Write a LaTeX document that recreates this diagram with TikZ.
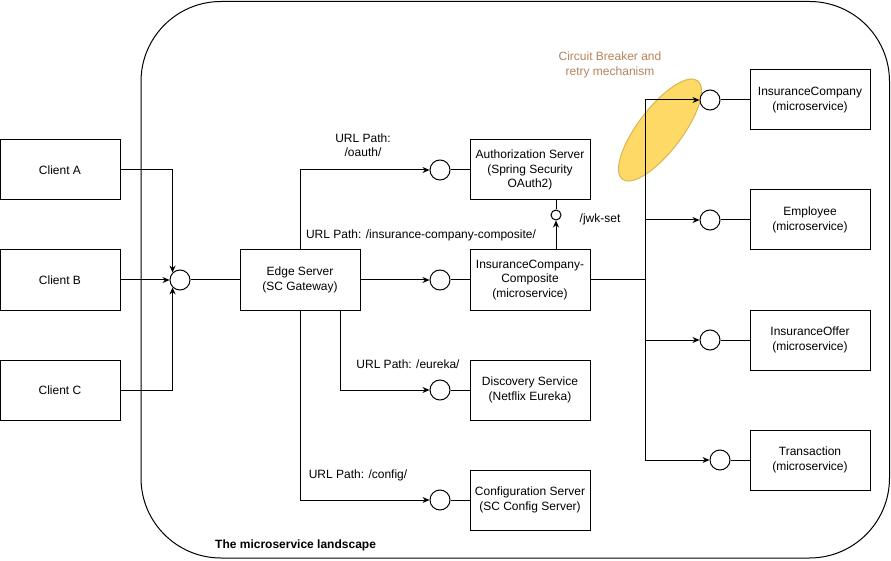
\documentclass[tikz,border=0pt]{standalone}
\usepackage{fontspec}
\setmainfont{Liberation Sans}
\usetikzlibrary{arrows.meta,shapes.geometric}
\definecolor{cbfill}{HTML}{FFD966}
\definecolor{cbdraw}{HTML}{D6B656}
\definecolor{cbtext}{HTML}{B5835A}
\begin{document}
\begin{tikzpicture}[x=1pt,y=-1pt,
  txt/.style={font=\fontsize{12}{14.5}\selectfont},
  box/.style={txt, draw, line width=1pt, minimum width=120pt, minimum height=60pt,
    align=center, inner sep=0pt, fill=white},
  port/.style={draw, circle, line width=1pt, minimum size=20pt, inner sep=0pt, fill=white},
  smallport/.style={draw, circle, line width=1pt, minimum size=10pt, inner sep=0pt, fill=white},
  link/.style={line width=1pt},
  flow/.style={link, -{Stealth[length=7pt,width=6pt]}},
  lbl/.style={txt, align=center, inner sep=0pt}
]
\useasboundingbox (0,0) rectangle (891,561);

% landscape boundary
\draw[line width=1pt, rounded corners=80pt] (141,1.5) rectangle (889.5,558);
\node[lbl, anchor=west, font=\fontsize{12}{14.5}\selectfont\bfseries] (lland) at (215,545) {The microservice landscape};

% circuit breaker highlight
\node[draw=cbdraw, fill=cbfill, ellipse, line width=1pt, minimum width=124pt, minimum height=44pt,
  rotate=52.6, inner sep=0pt] (cb) at (660,130) {};
\node[lbl, text=cbtext] (lcb) at (610,65) {Circuit Breaker and\\retry mechanism};

% clients
\node[box] (ca) at (60,170) {Client A};
\node[box] (cb) at (60,280) {Client B};
\node[box] (cc) at (60,390) {Client C};
\node[port] (jc) at (180,280) {};

% edge and infrastructure services
\node[box] (edge) at (300,280) {Edge Server\\(SC Gateway)};
\node[port] (pauth) at (440,170) {};
\node[box] (auth) at (530,170) {Authorization Server\\(Spring Security\\OAuth2)};
\node[port] (pcomp) at (440,280) {};
\node[box] (comp) at (530,280) {InsuranceCompany-\\Composite\\(microservice)};
\node[smallport] (pjwk) at (556,215) {};
\node[port] (pdisc) at (440,390) {};
\node[box] (disc) at (530,390) {Discovery Service\\(Netflix Eureka)};
\node[port] (pconf) at (440,500) {};
\node[box] (conf) at (530,500) {Configuration Server\\(SC Config Server)};

% core microservices
\node[port] (pic) at (710,100) {};
\node[box] (ic) at (810,100) {InsuranceCompany\\(microservice)};
\node[port] (pemp) at (710,220) {};
\node[box] (emp) at (810,220) {Employee\\(microservice)};
\node[port] (poff) at (710,340) {};
\node[box] (off) at (810,340) {InsuranceOffer\\(microservice)};
\node[port] (ptx) at (720,460) {};
\node[box] (tx) at (810,460) {Transaction\\(microservice)};

% path labels
\node[lbl] (loauth) at (363,145) {URL Path:\\/oauth/};
\node[lbl] (lcomp) at (421,235) {URL Path: /insurance-company-composite/};
\node[lbl] (ljwk) at (600,219) {/jwk-set};
\node[lbl] (leur) at (408,364) {URL Path: /eureka/};
\node[lbl] (lconf) at (358,475) {URL Path: /config/};

% clients to edge server
\draw[flow] (ca.east) -| (jc.north west);
\draw[flow] (cb.east) -- (jc.west);
\draw[flow] (cc.east) -| (jc.south west);
\draw[link] (jc.east) -- (edge.west);

% edge server routes
\draw[flow] (edge.north) |- (pauth.west);
\draw[link] (pauth.east) -- (auth.west);
\draw[flow] (edge.east) -- (pcomp.west);
\draw[link] (pcomp.east) -- (comp.west);
\draw[flow] ([xshift=40pt]edge.south) |- (pdisc.west);
\draw[link] (pdisc.east) -- (disc.west);
\draw[flow] (edge.south) |- (pconf.west);
\draw[link] (pconf.east) -- (conf.west);

% token key set
\draw[flow] (pjwk |- comp.north) -- (pjwk.south);
\draw[link] (pjwk.north) -- (pjwk |- auth.south);

% composite to core services
\coordinate (bus) at (645,280);
\draw[link] (comp.east) -- (bus);
\draw[flow] (bus) |- (pic.west);
\draw[flow] (bus) |- (pemp.west);
\draw[flow] (bus) |- (poff.west);
\draw[flow] (bus) |- (ptx.west);
\draw[link] (pic.east) -- (ic.west);
\draw[link] (pemp.east) -- (emp.west);
\draw[link] (poff.east) -- (off.west);
\draw[link] (ptx.east) -- (tx.west);
\end{tikzpicture}
\end{document}
